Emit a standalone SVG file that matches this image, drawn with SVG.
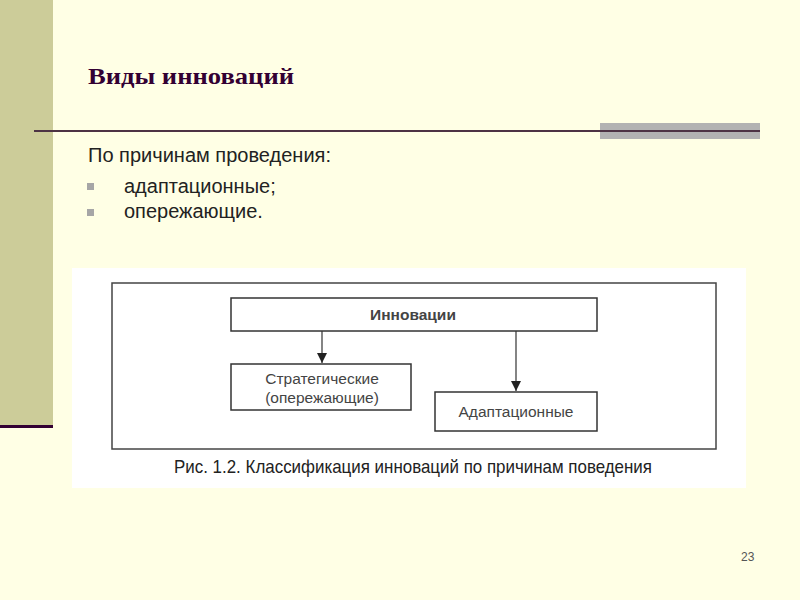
<svg xmlns="http://www.w3.org/2000/svg" width="800" height="600" viewBox="0 0 800 600">
<defs>
<marker id="ah" viewBox="0 0 10 10" refX="10" refY="5" markerWidth="10" markerHeight="12" markerUnits="userSpaceOnUse" orient="auto">
<path d="M0,0 L10,5 L0,10 Z" fill="#222"/>
</marker>
<style>
.box{fill:#fff;stroke:#333;stroke-width:1.5}
.lbl{font-family:"Liberation Sans",Arial,sans-serif;font-size:15.5px;fill:#444;text-anchor:middle}
.body{font-family:"Liberation Sans",Arial,sans-serif;font-size:20px;fill:#222}
.bul{fill:#a6a6a6}
.conn{stroke:#333;stroke-width:1.2;fill:none;marker-end:url(#ah)}
</style>
</defs>
<rect width="800" height="600" fill="#FFFFE5"/>
<rect x="0" y="0" width="53" height="425" fill="#CCCC99"/>
<rect x="0" y="425" width="53" height="3" fill="#330033"/>
<rect x="600" y="123" width="160" height="16" fill="#B2B2B2"/>
<line x1="34" y1="131" x2="760" y2="131" stroke="#4D3344" stroke-width="2"/>
<text x="88" y="84" font-family="'Liberation Serif','Times New Roman',serif" font-size="24" font-weight="bold" fill="#330033" textLength="206" lengthAdjust="spacingAndGlyphs">Виды инноваций</text>
<text class="body" x="88" y="162" textLength="243" lengthAdjust="spacingAndGlyphs">По причинам проведения:</text>
<rect class="bul" x="87" y="183" width="7" height="7"/>
<text class="body" x="124" y="193">адаптационные;</text>
<rect class="bul" x="87" y="209" width="7" height="7"/>
<text class="body" x="124" y="218">опережающие.</text>
<rect x="72" y="268" width="674" height="220" fill="#fff"/>
<rect x="112" y="283" width="604" height="166" fill="none" stroke="#444" stroke-width="1.5"/>
<g id="connectors">
<line class="conn" x1="322" y1="331" x2="322" y2="363"/>
<line class="conn" x1="516" y1="331" x2="516" y2="391"/>
</g>
<g id="innovations">
<rect class="box" x="231" y="298" width="366" height="33"/>
<text class="lbl" x="413" y="320" font-weight="bold" fill="#222">Инновации</text>
</g>
<g id="strategic">
<rect class="box" x="231" y="364" width="180" height="46"/>
<text class="lbl" x="322" y="384">Стратегические</text>
<text class="lbl" x="322" y="403">(опережающие)</text>
</g>
<g id="adaptive">
<rect class="box" x="435" y="392" width="162" height="39"/>
<text class="lbl" x="516" y="417">Адаптационные</text>
</g>
<text x="413" y="473" font-family="'Liberation Sans Narrow','Liberation Sans',Arial,sans-serif" font-size="19" fill="#222" text-anchor="middle" textLength="478" lengthAdjust="spacingAndGlyphs">Рис. 1.2. Классификация инноваций по причинам поведения</text>
<text x="741" y="561" font-family="'Liberation Sans',Arial,sans-serif" font-size="12" fill="#555">23</text>
</svg>
